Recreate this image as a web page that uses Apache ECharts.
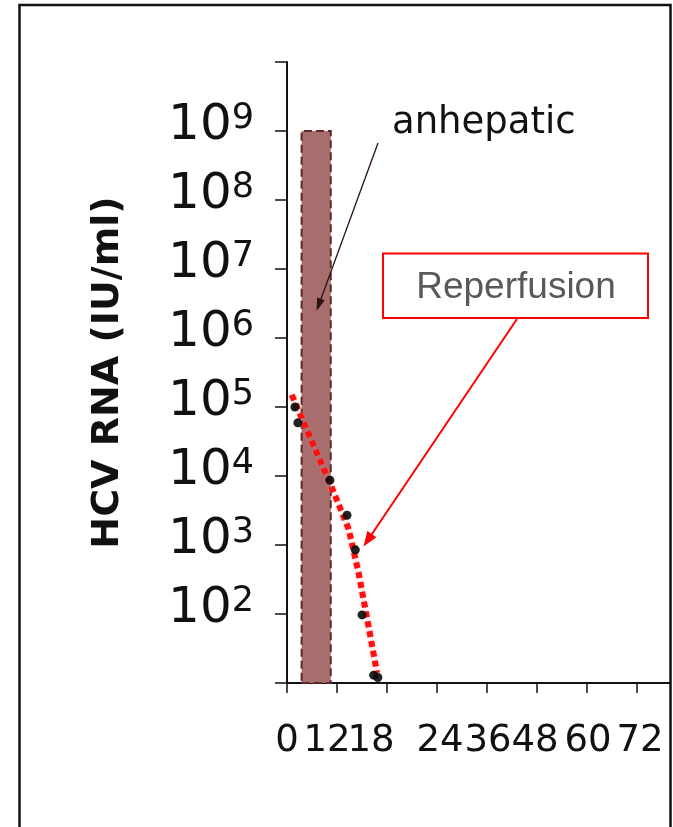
<!DOCTYPE html>
<html><head><meta charset="utf-8">
<style>html,body{margin:0;padding:0;background:#fff}#c{width:673px;height:827px}</style>
<script src="https://cdn.jsdelivr.net/npm/echarts@6/dist/echarts.min.js"></script>
</head><body><div id="c"></div>
<script>
// ---- data ----
const xTickLabels = ['0','12','18','24','36','48','60','72'];
const xTickHours = [0,12,18,24,36,48,60,72];
const yExponents = [2,3,4,5,6,7,8,9];
const pointHours = [1.9, 2.6, 10.3, 13.2, 14.2, 15.0, 16.4, 16.9];
const pointRNA = [1.0e5, 5.9e4, 8.7e3, 2.7e3, 850, 97, 13, 12];
const trendHours = [1.13, 5.5, 10.3, 13.4, 14.6, 15.8, 16.8];
const trendRNA = [1.5e5, 3.7e4, 7.9e3, 1.7e3, 390, 65, 14];
const anhepaticHours = [3.5, 10.5];
const anhepaticTop = 1e9;

// ---- layout (not data) ----
const labelNudge = [0,-10,-16,3,1,-2,1,3];

function hoursToAxis(h){
  for (let i=0;i<xTickHours.length-1;i++){
    const a=xTickHours[i], b=xTickHours[i+1];
    if (h<=b || i===xTickHours.length-2) return i+(h-a)/(b-a);
  }
}
const points = pointHours.map((h,i)=>[hoursToAxis(h), pointRNA[i]]);
const trend = trendHours.map((h,i)=>[hoursToAxis(h), trendRNA[i]]);

const xRich = {};
labelNudge.forEach((n,i)=>{
  xRich['n'+i] = {fontSize:37, fontFamily:'DejaVu Sans', color:'#111',
    padding: n<0 ? [0,-2*n,0,0] : [0,0,0,2*n]};
});

function arrow(x1,y1,x2,y2,color,width,headLen,headW){
  const dx=x2-x1, dy=y2-y1, L=Math.hypot(dx,dy), ux=dx/L, uy=dy/L;
  const bx=x2-ux*headLen, by=y2-uy*headLen, px=-uy, py=ux;
  return [
    {type:'line', z:100, shape:{x1:x1,y1:y1,x2:bx+ux*2,y2:by+uy*2}, style:{stroke:color,lineWidth:width}},
    {type:'polygon', z:100, shape:{points:[[x2,y2],[bx+px*headW/2,by+py*headW/2],[bx-px*headW/2,by-py*headW/2]]}, style:{fill:color}}
  ];
}

const chart = echarts.init(document.getElementById('c'), null, {renderer:'canvas'});
chart.setOption({
  backgroundColor:'#fff',
  animation:false,
  grid:{left:287, right:3, top:62, bottom:144, containLabel:false},
  xAxis:{
    type:'value', min:0, max:7.66, interval:1,
    axisLine:{show:true, onZero:false, lineStyle:{color:'#111', width:2}},
    axisTick:{show:true, length:10, lineStyle:{color:'#111', width:1.5}},
    splitLine:{show:false},
    axisLabel:{
      margin:40, showMaxLabel:false,
      formatter:(v)=>{ const i=Math.round(v); if (Math.abs(v-i)>1e-6 || i<0 || i>=xTickLabels.length) return ''; return '{n'+i+'|'+xTickLabels[i]+'}'; },
      rich:xRich
    }
  },
  yAxis:{
    type:'log', logBase:10, min:10, max:1e10, splitNumber:9,
    name:'HCV RNA (IU/ml)', nameLocation:'middle', nameRotate:90, nameGap:160,
    nameTextStyle:{fontSize:38, fontWeight:'bold', fontFamily:'DejaVu Sans', color:'#111'},
    axisLine:{show:true, lineStyle:{color:'#111', width:2}},
    axisTick:{show:true, length:12, lineStyle:{color:'#111', width:1.5}},
    splitLine:{show:false},
    axisLabel:{
      margin:33, padding:[0,0,10,0],
      formatter:(v)=>{ const e=Math.round(Math.log10(v)); return yExponents.indexOf(e)>=0 ? '{b|10}{s|'+e+'}' : ''; },
      rich:{
        b:{fontSize:50, lineHeight:50, fontFamily:'DejaVu Sans', color:'#111', verticalAlign:'bottom'},
        s:{fontSize:35, lineHeight:35, fontFamily:'DejaVu Sans', color:'#111', verticalAlign:'top'}
      }
    }
  },
  series:[
    {
      type:'line', data:[], silent:true,
      markArea:{
        silent:true,
        itemStyle:{color:'#a86e6e', borderColor:'#5e2828', borderWidth:2, borderType:'dashed'},
        data:[[{xAxis:hoursToAxis(anhepaticHours[0]), yAxis:10},{xAxis:hoursToAxis(anhepaticHours[1]), yAxis:anhepaticTop}]]
      }
    },
    {
      type:'line', data:trend, showSymbol:false, z:4,
      lineStyle:{color:'#ff1010', width:6, type:[6,4], shadowColor:'rgba(255,120,120,0.6)', shadowBlur:3}
    },
    {
      type:'scatter', data:points, symbol:'circle', symbolSize:9, z:6,
      itemStyle:{color:'#0a0a0a', opacity:0.9}
    }
  ],
  graphic:[
    {type:'rect', z:100, shape:{x:19.5,y:5,width:651,height:840}, style:{fill:'none', stroke:'#111', lineWidth:2.5}},
    {type:'text', z:100, x:392, y:123, style:{text:'anhepatic', fontSize:37, fontFamily:'DejaVu Sans', fill:'#111', align:'left', verticalAlign:'middle'}},
    {type:'rect', z:100, shape:{x:383,y:253.5,width:265,height:64.5}, style:{fill:'#fff', stroke:'#ff0000', lineWidth:2}},
    {type:'text', z:101, x:516, y:287.5, style:{text:'Reperfusion', fontSize:37, fontFamily:'Liberation Sans', fill:'#595959', align:'center', verticalAlign:'middle'}}
  ].concat(arrow(378,143,316.5,311,'#2a1414',1.3,13,8))
   .concat(arrow(517,319,363.5,546.5,'#ff0000',2,15,11))
});
</script></body></html>
